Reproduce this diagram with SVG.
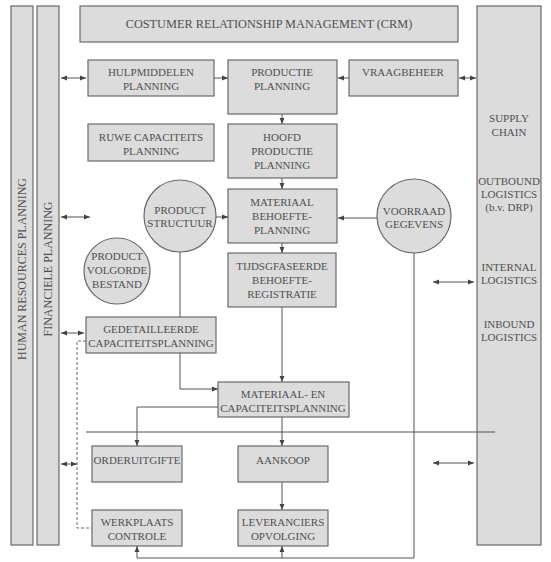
<svg xmlns="http://www.w3.org/2000/svg" width="551" height="562" viewBox="0 0 551 562">
<defs>
<marker id="ah" viewBox="0 0 10 10" refX="10" refY="5" markerWidth="6" markerHeight="6" orient="auto-start-reverse" markerUnits="userSpaceOnUse">
<path d="M0,1 L10,5 L0,9 z" fill="#444"/>
</marker>
<style>
.box{fill:#dcdcdd;stroke:#6a6a6a;stroke-width:1.2}
.t{font-family:"Liberation Serif","Times New Roman",serif;font-size:11px;fill:#505050;text-anchor:middle}
.big{font-size:12.3px}
.vt{font-size:12px}
.ln{fill:none;stroke:#555;stroke-width:1}
.ar{fill:none;stroke:#555;stroke-width:1;marker-end:url(#ah)}
.da{fill:none;stroke:#555;stroke-width:1;marker-end:url(#ah);marker-start:url(#ah)}
.dash{fill:none;stroke:#666;stroke-width:1;stroke-dasharray:3,2}
</style>
</defs>
<rect width="551" height="562" fill="#ffffff"/>

<g id="hr"><rect class="box" x="11" y="6" width="22" height="539"/><text class="t vt" transform="translate(26,269) rotate(-90)">HUMAN RESOURCES PLANNING</text></g>
<g id="fin"><rect class="box" x="37" y="6" width="22" height="539"/><text class="t vt" transform="translate(52,269) rotate(-90)">FINANCIELE PLANNING</text></g>
<g id="crm"><rect class="box" x="80" y="6" width="378" height="36"/><text class="t big" x="269" y="28">COSTUMER RELATIONSHIP MANAGEMENT (CRM)</text></g>
<g id="supply"><rect class="box" x="477" y="6" width="64" height="539"/>
<text class="t" x="509" y="122">SUPPLY</text><text class="t" x="509" y="136">CHAIN</text>
<text class="t" x="509" y="185">OUTBOUND</text><text class="t" x="509" y="198">LOGISTICS</text><text class="t" x="509" y="211">(b.v. DRP)</text>
<text class="t" x="509" y="271">INTERNAL</text><text class="t" x="509" y="284">LOGISTICS</text>
<text class="t" x="509" y="328">INBOUND</text><text class="t" x="509" y="341">LOGISTICS</text></g>

<g id="hulp"><rect class="box" x="88" y="60" width="126" height="36"/><text class="t" x="151" y="76">HULPMIDDELEN</text><text class="t" x="151" y="90">PLANNING</text></g>
<g id="prodplan"><rect class="box" x="228" y="60" width="109" height="54"/><text class="t" x="282" y="76">PRODUCTIE</text><text class="t" x="282" y="90">PLANNING</text></g>
<g id="vraag"><rect class="box" x="349" y="60" width="109" height="36"/><text class="t" x="403" y="76">VRAAGBEHEER</text></g>
<g id="ruwe"><rect class="box" x="88" y="124" width="126" height="37"/><text class="t" x="151" y="141">RUWE CAPACITEITS</text><text class="t" x="151" y="155">PLANNING</text></g>
<g id="hoofd"><rect class="box" x="228" y="124" width="109" height="54"/><text class="t" x="282" y="141">HOOFD</text><text class="t" x="282" y="155">PRODUCTIE</text><text class="t" x="282" y="169">PLANNING</text></g>
<g id="structuur"><circle class="box" cx="180" cy="216" r="36"/><text class="t" x="180" y="214">PRODUCT</text><text class="t" x="180" y="227">STRUCTUUR</text></g>
<g id="mbp"><rect class="box" x="228" y="189" width="109" height="54"/><text class="t" x="282" y="206">MATERIAAL</text><text class="t" x="282" y="220">BEHOEFTE-</text><text class="t" x="282" y="234">PLANNING</text></g>
<g id="voorraad"><circle class="box" cx="414" cy="216" r="37"/><text class="t" x="414" y="215">VOORRAAD</text><text class="t" x="414" y="228">GEGEVENS</text></g>
<g id="volgorde"><circle class="box" cx="117" cy="271" r="33"/><text class="t" x="117" y="260">PRODUCT</text><text class="t" x="117" y="274">VOLGORDE</text><text class="t" x="117" y="288">BESTAND</text></g>
<g id="tijds"><rect class="box" x="228" y="253" width="108" height="54"/><text class="t" x="282" y="270">TIJDSGFASEERDE</text><text class="t" x="282" y="284">BEHOEFTE-</text><text class="t" x="282" y="298">REGISTRATIE</text></g>
<g id="gedet"><rect class="box" x="86" y="317" width="130" height="36"/><text class="t" x="151" y="333">GEDETAILLEERDE</text><text class="t" x="151" y="347">CAPACITEITSPLANNING</text></g>
<g id="mcp"><rect class="box" x="218" y="382" width="131" height="35"/><text class="t" x="283" y="398">MATERIAAL- EN</text><text class="t" x="283" y="412">CAPACITEITSPLANNING</text></g>
<g id="order"><rect class="box" x="92" y="446" width="90" height="36"/><text class="t" x="137" y="464">ORDERUITGIFTE</text></g>
<g id="aankoop"><rect class="box" x="238" y="446" width="90" height="36"/><text class="t" x="283" y="464">AANKOOP</text></g>
<g id="werk"><rect class="box" x="92" y="510" width="90" height="36"/><text class="t" x="137" y="526">WERKPLAATS</text><text class="t" x="137" y="540">CONTROLE</text></g>
<g id="lever"><rect class="box" x="238" y="510" width="90" height="36"/><text class="t" x="283" y="526">LEVERANCIERS</text><text class="t" x="283" y="540">OPVOLGING</text></g>

<g id="connectors">
<path class="da" d="M61,78 H86"/>
<path class="da" d="M459,78 H476"/>
<path class="da" d="M61,217 H90"/>
<path class="da" d="M61,333 H84"/>
<path class="da" d="M61,464 H77"/>
<path class="da" d="M433,282 H474"/>
<path class="da" d="M433,463 H474"/>
<path class="ar" d="M214,78 H228"/>
<path class="ar" d="M349,78 H338"/>
<path class="ar" d="M282,114 V124"/>
<path class="ar" d="M282,178 V189"/>
<path class="ar" d="M216,217 H228"/>
<path class="ar" d="M377,218 H338"/>
<path class="ar" d="M282,243 V253"/>
<path class="ar" d="M282,307 V382"/>
<path class="ln" d="M180,252 V317"/>
<path class="ar" d="M180,353 V389 H218"/>
<path class="ar" d="M218,407 H137 V446"/>
<path class="ln" d="M86,432 H495"/>
<path class="ar" d="M282,417 V446"/>
<path class="ar" d="M282,482 V510"/>
<path class="ar" d="M414,253 V558 H137 V546"/>
<path class="ar" d="M282,558 V546"/>
<path class="dash" d="M86,341 H77 V528 H92"/>
</g>
</svg>
